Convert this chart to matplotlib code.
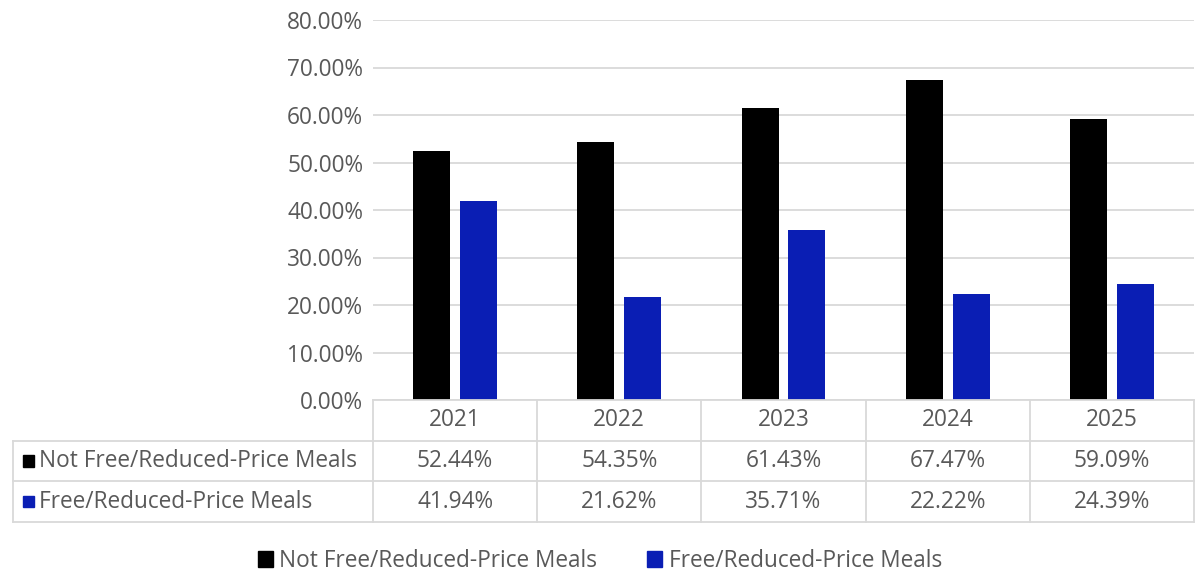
import matplotlib
matplotlib.use("Agg")
import matplotlib.pyplot as plt
from matplotlib.patches import Rectangle

years = ["2021", "2022", "2023", "2024", "2025"]
not_free = [52.44, 54.35, 61.43, 67.47, 59.09]
free = [41.94, 21.62, 35.71, 22.22, 24.39]
series_names = ["Not Free/Reduced-Price Meals", "Free/Reduced-Price Meals"]
series_colors = ["#000000", "#0A1EB4"]
yticks = [0, 10, 20, 30, 40, 50, 60, 70, 80]

plt.rcParams['font.family'] = ['Open Sans', 'DejaVu Sans']
text_col = "#595959"
grid_col = "#D9D9D9"
fs = 16.3

W, H = 1199, 576
fig = plt.figure(figsize=(W / 100, H / 100), dpi=100)

# plot area in pixels
px_left, px_right, px_top, px_zero = 373, 1194, 20, 400
ax = fig.add_axes([px_left / W, 1 - px_zero / H, (px_right - px_left) / W, (px_zero - px_top) / H])

n = len(years)
x = list(range(n))
bw = 0.225
gap = 0.06
ax.bar([i - (bw + gap) / 2 for i in x], not_free, width=bw, color=series_colors[0], zorder=3)
ax.bar([i + (bw + gap) / 2 for i in x], free, width=bw, color=series_colors[1], zorder=3)

ax.set_xlim(-0.5, n - 0.5)
ax.set_ylim(0, 80)
ax.set_yticks(yticks)
ax.set_yticklabels([f"{v:.2f}%" for v in yticks], color=text_col, fontsize=fs)
ax.set_xticks([])
ax.tick_params(axis='y', length=0, pad=7)
for s in ax.spines.values():
    s.set_visible(False)
ax.yaxis.grid(True, color=grid_col, linewidth=1.3, zorder=0)

# data table below the plot
tbl_left, tbl_bottom = 13, 522
cat_px = (px_right - px_left) / n
label_w = (px_left - tbl_left) / cat_px
tax = fig.add_axes([tbl_left / W, 1 - tbl_bottom / H, (px_right - tbl_left) / W, (tbl_bottom - px_zero) / H])
tax.set_xlim(-0.5 - label_w, n - 0.5)
tax.set_ylim(0, 3)
tax.axis('off')

lw = 1.3
# horizontal lines
tax.plot([-0.5, n - 0.5], [3, 3], color=grid_col, lw=lw, clip_on=False)
for yy in [0, 1, 2]:
    tax.plot([-0.5 - label_w, n - 0.5], [yy, yy], color=grid_col, lw=lw, clip_on=False)
# vertical lines
tax.plot([-0.5 - label_w] * 2, [0, 2], color=grid_col, lw=lw, clip_on=False)
for i in range(n + 1):
    tax.plot([i - 0.5] * 2, [0, 3], color=grid_col, lw=lw, clip_on=False)

for i, yr in enumerate(years):
    tax.text(i, 2.5, yr, ha='center', va='center', color=text_col, fontsize=fs)
for r, (vals, name, col) in enumerate(zip([not_free, free], series_names, series_colors)):
    yc = 1.5 - r
    for i, v in enumerate(vals):
        tax.text(i, yc, f"{v:.2f}%", ha='center', va='center', color=text_col, fontsize=fs)
    sq = 11 / cat_px
    tax.add_patch(Rectangle((-0.5 - label_w + 10 / cat_px, yc - 0.14), sq, 0.28,
                            color=col, clip_on=False))
    tax.text(-0.5 - label_w + 26 / cat_px, yc, name, ha='left', va='center',
             color=text_col, fontsize=fs)

# legend
handles = [Rectangle((0, 0), 1, 1, color=c) for c in series_colors]
fig.legend(handles, series_names, loc='center', bbox_to_anchor=(600 / W, 1 - 561 / H),
           ncol=2, frameon=False, fontsize=fs, labelcolor=text_col,
           handlelength=0.65, handleheight=0.65, handletextpad=0.3, columnspacing=2.2)

fig.savefig("out.png", dpi=100)
